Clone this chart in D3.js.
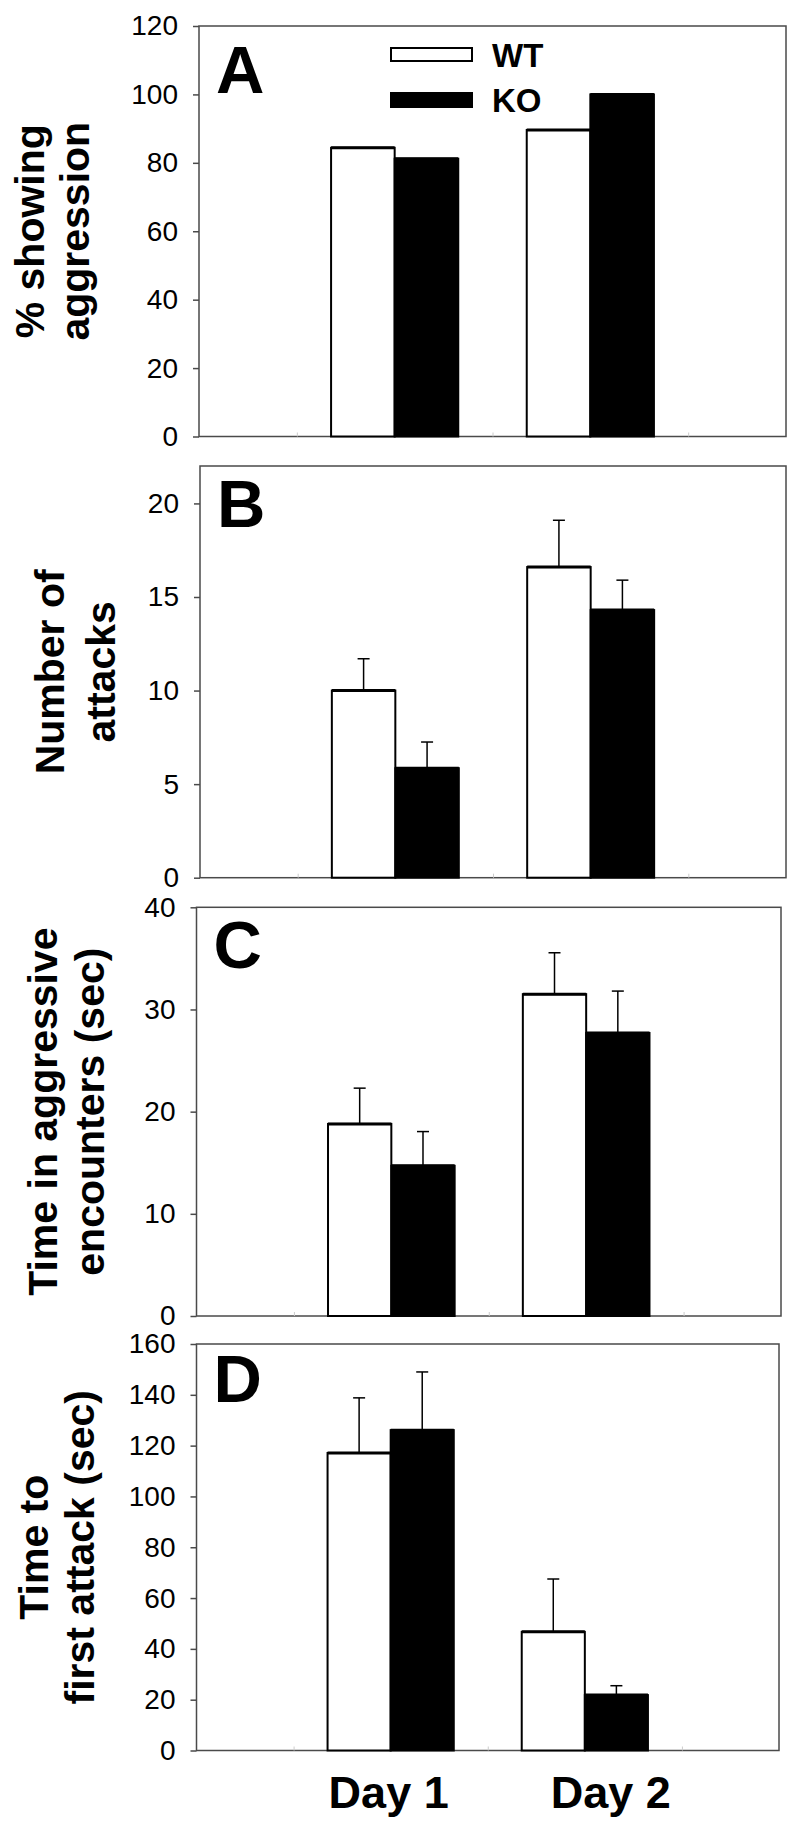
<!DOCTYPE html>
<html>
<head>
<meta charset="utf-8">
<script src="https://cdn.jsdelivr.net/npm/d3@7"></script>
<style>
  html, body { margin: 0; padding: 0; background: #fff; }
  svg { display: block; }
</style>
</head>
<body>
<script>
// ---------- DATA ----------
const categories = ["Day 1", "Day 2"];
const seriesNames = ["WT", "KO"];
const panelLetters = ["A", "B", "C", "D"];
const yTitles = [
  ["% showing", "aggression"],
  ["Number of", "attacks"],
  ["Time in aggressive", "encounters (sec)"],
  ["Time to", "first attack (sec)"]
];
const yMaxes = [120, 22, 40, 160];
const yTicksA = [0, 20, 40, 60, 80, 100, 120];
const yTicksB = [0, 5, 10, 15, 20];
const yTicksC = [0, 10, 20, 30, 40];
const yTicksD = [0, 20, 40, 60, 80, 100, 120, 140, 160];

const wtA = [84.4, 89.6];
const koA = [81.2, 100];

const wtB = [10.0, 16.6];
const wtBErr = [1.7, 2.5];
const koB = [5.85, 14.3];
const koBErr = [1.4, 1.6];

const wtC = [18.8, 31.5];
const wtCErr = [3.5, 4.05];
const koC = [14.7, 27.7];
const koCErr = [3.35, 4.1];

const wtD = [117.1, 46.7];
const wtDErr = [21.7, 20.8];
const koD = [126.1, 21.8];
const koDErr = [22.9, 3.7];

// ---------- LAYOUT / STYLE ----------
const FONT = "'Liberation Sans', Arial, Helvetica, sans-serif";
const seriesFill = ["#ffffff", "#000000"];
const layout = [
  { left: 199, right: 786, top: 26, bottom: 436.5, t1: 44, t2: 89, letterDy: 67 },
  { left: 200, right: 786, top: 466, bottom: 877.7, t1: 64, t2: 115, letterDy: 61 },
  { left: 196.5, right: 781, top: 907.3, bottom: 1316, t1: 57, t2: 104, letterDy: 61 },
  { left: 196.5, right: 779, top: 1344, bottom: 1750.5, t1: 48, t2: 94, letterDy: 58 }
];
const panels = [
  { max: yMaxes[0], ticks: yTicksA, values: [wtA, koA], errs: null },
  { max: yMaxes[1], ticks: yTicksB, values: [wtB, koB], errs: [wtBErr, koBErr] },
  { max: yMaxes[2], ticks: yTicksC, values: [wtC, koC], errs: [wtCErr, koCErr] },
  { max: yMaxes[3], ticks: yTicksD, values: [wtD, koD], errs: [wtDErr, koDErr] }
];
const barW = 0.325;        // in x-domain units
const dayLabelDx = [-2, 26];

const svg = d3.select("body").append("svg")
  .attr("width", 800).attr("height", 1831);
svg.append("rect").attr("width", 800).attr("height", 1831).attr("fill", "#fff");

panels.forEach((p, i) => {
  const L = layout[i];
  const x = d3.scaleLinear().domain([0, categories.length + 1]).range([L.left, L.right]);
  const y = d3.scaleLinear().domain([0, p.max]).range([L.bottom, L.top]);
  const g = svg.append("g");

  // frame
  g.append("rect")
    .attr("x", L.left).attr("y", L.top)
    .attr("width", L.right - L.left).attr("height", L.bottom - L.top)
    .attr("fill", "none").attr("stroke", "#4a4a4a").attr("stroke-width", 1.5);

  // y axis
  const ya = g.append("g")
    .attr("transform", `translate(${L.left},0)`)
    .call(d3.axisLeft(y).tickValues(p.ticks).tickSize(6).tickPadding(15).tickFormat(d3.format("d")));
  ya.select(".domain").remove();
  ya.selectAll(".tick line").attr("stroke", "#4a4a4a").attr("stroke-width", 1.5);
  ya.selectAll(".tick text")
    .attr("font-family", FONT).attr("font-size", 28).attr("fill", "#000");

  // faint minor x ticks (inside)
  const xa = g.append("g")
    .attr("transform", `translate(0,${L.bottom})`)
    .call(d3.axisBottom(x).tickValues([0.5, 1, 1.5, 2, 2.5]).tickSize(-4).tickFormat(""));
  xa.select(".domain").remove();
  xa.selectAll(".tick line").attr("stroke", "#ccc").attr("stroke-width", 1);

  // bars
  const data = [];
  categories.forEach((c, ci) => {
    seriesNames.forEach((s, si) => {
      data.push({
        ci, si,
        v: p.values[si][ci],
        e: p.errs ? p.errs[si][ci] : null
      });
    });
  });
  const bwPx = x(barW) - x(0);
  const x0 = d => (d.si === 0 ? x(d.ci + 1 - barW) : x(d.ci + 1));
  g.selectAll("rect.bar").data(data).enter().append("rect")
    .attr("class", "bar")
    .attr("x", x0)
    .attr("y", d => y(d.v))
    .attr("width", bwPx)
    .attr("height", d => y(0) - y(d.v))
    .attr("fill", d => seriesFill[d.si])
    .attr("stroke", "#000").attr("stroke-width", 2);
  // slightly heavier top edge, as in the original
  g.selectAll("line.top").data(data).enter().append("line")
    .attr("class", "top")
    .attr("x1", x0).attr("x2", d => x0(d) + bwPx)
    .attr("y1", d => y(d.v)).attr("y2", d => y(d.v))
    .attr("stroke", "#000").attr("stroke-width", 3);

  // error bars
  const eb = data.filter(d => d.e != null);
  const cx = d => x0(d) + bwPx / 2;
  g.selectAll("line.err").data(eb).enter().append("line")
    .attr("class", "err")
    .attr("x1", cx).attr("x2", cx)
    .attr("y1", d => y(d.v)).attr("y2", d => y(d.v + d.e))
    .attr("stroke", "#000").attr("stroke-width", 1.5);
  g.selectAll("line.cap").data(eb).enter().append("line")
    .attr("class", "cap")
    .attr("x1", d => cx(d) - 6).attr("x2", d => cx(d) + 6)
    .attr("y1", d => y(d.v + d.e)).attr("y2", d => y(d.v + d.e))
    .attr("stroke", "#000").attr("stroke-width", 1.5);

  // panel letter
  g.append("text")
    .attr("x", L.left + 17).attr("y", L.top + L.letterDy)
    .attr("font-family", FONT).attr("font-weight", "bold").attr("font-size", 67)
    .text(panelLetters[i]);

  // y title (two lines, rotated)
  const cy = (L.top + L.bottom) / 2;
  [L.t1, L.t2].forEach((bx, li) => {
    g.append("text")
      .attr("transform", `translate(${bx},${cy}) rotate(-90)`)
      .attr("text-anchor", "middle")
      .attr("font-family", FONT).attr("font-weight", "bold").attr("font-size", 41)
      .text(yTitles[i][li]);
  });

  // legend in panel A
  if (i === 0) {
    const lg = g.append("g");
    seriesNames.forEach((s, si) => {
      const yTop = si === 0 ? 48 : 93;
      lg.append("rect")
        .attr("x", 391).attr("y", yTop)
        .attr("width", 81).attr("height", si === 0 ? 13 : 14)
        .attr("fill", seriesFill[si]).attr("stroke", "#000").attr("stroke-width", 2);
      lg.append("text")
        .attr("x", 492).attr("y", si === 0 ? 67 : 112)
        .attr("font-family", FONT).attr("font-weight", "bold").attr("font-size", 33)
        .text(s);
    });
  }

  // category labels at the bottom panel
  if (i === panels.length - 1) {
    g.selectAll("text.cat").data(categories).enter().append("text")
      .attr("class", "cat")
      .attr("x", (c, ci) => x(ci + 1) + dayLabelDx[ci])
      .attr("y", 1808)
      .attr("text-anchor", "middle")
      .attr("font-family", FONT).attr("font-weight", "bold").attr("font-size", 45)
      .text(c => c);
  }
});
</script>
</body>
</html>
